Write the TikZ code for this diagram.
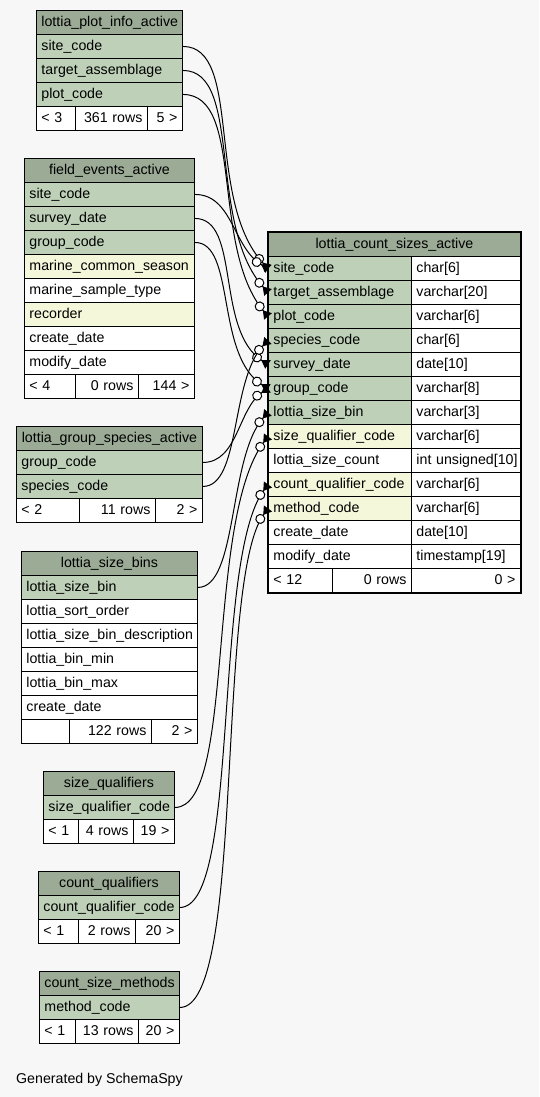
\documentclass[tikz,border=0pt]{standalone}
\usepackage{fontspec}
\setmainfont{Liberation Sans}
\usetikzlibrary{arrows.meta}

\definecolor{headcol}{HTML}{9BAB96}
\definecolor{keycol}{HTML}{BED1B8}
\definecolor{idxcol}{HTML}{F4F7DA}
\definecolor{bgcol}{HTML}{F7F7F7}

\newcommand{\cellfont}{\fontsize{14.2}{17}\selectfont}
% one table cell: name, x, y (top left), width, style, text
\newcommand{\tcell}[6]{%
  \pgfmathsetmacro{\cellw}{#4-10}%
  \node[cell, #5, minimum width=#4pt, text width=\cellw pt] (#1) at (#2,#3) {\mbox{#6}};}

\begin{document}
\begin{tikzpicture}[x=1pt, y=-1pt,
cell/.style={rectangle, draw=black, line width=0.9pt, anchor=north west, minimum height=24pt,
  inner xsep=5pt, inner ysep=0pt, text height=11.5pt, text depth=2.5pt, align=left, font=\cellfont},
headrow/.style={fill=headcol, align=center},
keyrow/.style={fill=keycol},
idxrow/.style={fill=idxcol},
plainrow/.style={fill=white},
numcell/.style={fill=white, align=right},
fk/.style={draw=black, line width=1pt,
  -{Circle[open, fill=white, length=10pt, sep=0pt]Triangle[reversed, length=8pt, width=10pt]}},
]

\fill[bgcol] (0,0) rectangle (539,1097);

% lottia_plot_info_active
\tcell{pia-head}{36}{10}{146}{headrow}{lottia\_plot\_info\_active}
\tcell{pia-site}{36}{34}{146}{keyrow}{site\_code}
\tcell{pia-target}{36}{58}{146}{keyrow}{target\_assemblage}
\tcell{pia-plot}{36}{82}{146}{keyrow}{plot\_code}
\tcell{pia-foot1}{36}{106}{39}{plainrow}{< 3}
\tcell{pia-foot2}{75}{106}{72}{numcell}{361 rows}
\tcell{pia-foot3}{147}{106}{35}{numcell}{5 >}

% field_events_active
\tcell{fea-head}{24}{158}{170}{headrow}{field\_events\_active}
\tcell{fea-site}{24}{182}{170}{keyrow}{site\_code}
\tcell{fea-survey}{24}{206}{170}{keyrow}{survey\_date}
\tcell{fea-group}{24}{230}{170}{keyrow}{group\_code}
\tcell{fea-season}{24}{254}{170}{idxrow}{marine\_common\_season}
\tcell{fea-sample}{24}{278}{170}{plainrow}{marine\_sample\_type}
\tcell{fea-recorder}{24}{302}{170}{idxrow}{recorder}
\tcell{fea-create}{24}{326}{170}{plainrow}{create\_date}
\tcell{fea-modify}{24}{350}{170}{plainrow}{modify\_date}
\tcell{fea-foot1}{24}{374}{51}{plainrow}{< 4}
\tcell{fea-foot2}{75}{374}{63}{numcell}{0 rows}
\tcell{fea-foot3}{138}{374}{56}{numcell}{144 >}

% lottia_group_species_active
\tcell{lgs-head}{16}{426}{186}{headrow}{lottia\_group\_species\_active}
\tcell{lgs-group}{16}{450}{186}{keyrow}{group\_code}
\tcell{lgs-species}{16}{474}{186}{keyrow}{species\_code}
\tcell{lgs-foot1}{16}{498}{63}{plainrow}{< 2}
\tcell{lgs-foot2}{79}{498}{76}{numcell}{11 rows}
\tcell{lgs-foot3}{155}{498}{47}{numcell}{2 >}

% lottia_size_bins
\tcell{lsb-head}{21}{551}{176}{headrow}{lottia\_size\_bins}
\tcell{lsb-bin}{21}{575}{176}{keyrow}{lottia\_size\_bin}
\tcell{lsb-order}{21}{599}{176}{plainrow}{lottia\_sort\_order}
\tcell{lsb-desc}{21}{623}{176}{plainrow}{lottia\_size\_bin\_description}
\tcell{lsb-min}{21}{647}{176}{plainrow}{lottia\_bin\_min}
\tcell{lsb-max}{21}{671}{176}{plainrow}{lottia\_bin\_max}
\tcell{lsb-create}{21}{695}{176}{plainrow}{create\_date}
\tcell{lsb-foot1}{21}{719}{48}{plainrow}{}
\tcell{lsb-foot2}{69}{719}{82}{numcell}{122 rows}
\tcell{lsb-foot3}{151}{719}{46}{numcell}{2 >}

% size_qualifiers
\tcell{sq-head}{43}{771}{131}{headrow}{size\_qualifiers}
\tcell{sq-code}{43}{795}{131}{keyrow}{size\_qualifier\_code}
\tcell{sq-foot1}{43}{819}{35}{plainrow}{< 1}
\tcell{sq-foot2}{78}{819}{55}{numcell}{4 rows}
\tcell{sq-foot3}{133}{819}{41}{numcell}{19 >}

% count_qualifiers
\tcell{cq-head}{38}{871}{141}{headrow}{count\_qualifiers}
\tcell{cq-code}{38}{895}{141}{keyrow}{count\_qualifier\_code}
\tcell{cq-foot1}{38}{919}{40}{plainrow}{< 1}
\tcell{cq-foot2}{78}{919}{57}{numcell}{2 rows}
\tcell{cq-foot3}{135}{919}{44}{numcell}{20 >}

% count_size_methods
\tcell{csm-head}{39}{971}{140}{headrow}{count\_size\_methods}
\tcell{csm-code}{39}{995}{140}{keyrow}{method\_code}
\tcell{csm-foot1}{39}{1019}{36}{plainrow}{< 1}
\tcell{csm-foot2}{75}{1019}{63}{numcell}{13 rows}
\tcell{csm-foot3}{138}{1019}{41}{numcell}{20 >}

% lottia_count_sizes_active
\tcell{lcs-head}{268}{232}{252}{headrow}{lottia\_count\_sizes\_active}
\tcell{lcs-site}{268}{256}{143}{keyrow}{site\_code}
\tcell{lcs-site-t}{411}{256}{109}{plainrow}{char[6]}
\tcell{lcs-target}{268}{280}{143}{keyrow}{target\_assemblage}
\tcell{lcs-target-t}{411}{280}{109}{plainrow}{varchar[20]}
\tcell{lcs-plot}{268}{304}{143}{keyrow}{plot\_code}
\tcell{lcs-plot-t}{411}{304}{109}{plainrow}{varchar[6]}
\tcell{lcs-species}{268}{328}{143}{keyrow}{species\_code}
\tcell{lcs-species-t}{411}{328}{109}{plainrow}{char[6]}
\tcell{lcs-survey}{268}{352}{143}{keyrow}{survey\_date}
\tcell{lcs-survey-t}{411}{352}{109}{plainrow}{date[10]}
\tcell{lcs-group}{268}{376}{143}{keyrow}{group\_code}
\tcell{lcs-group-t}{411}{376}{109}{plainrow}{varchar[8]}
\tcell{lcs-bin}{268}{400}{143}{keyrow}{lottia\_size\_bin}
\tcell{lcs-bin-t}{411}{400}{109}{plainrow}{varchar[3]}
\tcell{lcs-sizeq}{268}{424}{143}{idxrow}{size\_qualifier\_code}
\tcell{lcs-sizeq-t}{411}{424}{109}{plainrow}{varchar[6]}
\tcell{lcs-count}{268}{448}{143}{plainrow}{lottia\_size\_count}
\tcell{lcs-count-t}{411}{448}{109}{plainrow}{int unsigned[10]}
\tcell{lcs-countq}{268}{472}{143}{idxrow}{count\_qualifier\_code}
\tcell{lcs-countq-t}{411}{472}{109}{plainrow}{varchar[6]}
\tcell{lcs-method}{268}{496}{143}{idxrow}{method\_code}
\tcell{lcs-method-t}{411}{496}{109}{plainrow}{varchar[6]}
\tcell{lcs-create}{268}{520}{143}{plainrow}{create\_date}
\tcell{lcs-create-t}{411}{520}{109}{plainrow}{date[10]}
\tcell{lcs-modify}{268}{544}{143}{plainrow}{modify\_date}
\tcell{lcs-modify-t}{411}{544}{109}{plainrow}{timestamp[19]}
\tcell{lcs-foot1}{268}{568}{64}{plainrow}{< 12}
\tcell{lcs-foot2}{332}{568}{79}{numcell}{0 rows}
\tcell{lcs-foot3}{411}{568}{109}{numcell}{0 >}
\draw[line width=2.6pt] (lcs-head.north west) rectangle (lcs-foot3.south east);

% foreign keys
\draw[fk] (pia-site.east) .. controls +(60,0) and +(-63,-68) .. (lcs-site.west);
\draw[fk] (pia-target.east) .. controls +(60,0) and +(-61,-68) .. (lcs-target.west);
\draw[fk] (pia-plot.east) .. controls +(62,0) and +(-58,-70) .. (lcs-plot.west);
\draw[fk] (fea-site.east) .. controls +(38,0) and +(-35,-20) .. (lcs-site.west);
\draw[fk] (fea-survey.east) .. controls +(46,0) and +(-53,-34) .. (lcs-survey.west);
\draw[fk] (fea-group.east) .. controls +(41,0) and +(-53,-33) .. (lcs-group.west);
\draw[fk] (lgs-group.east) .. controls +(35,0) and +(-30,20) .. (lcs-group.west);
\draw[fk] (lgs-species.east) .. controls +(38,0) and +(-38,40) .. (lcs-species.west);
\draw[fk] (lsb-bin.east) .. controls +(40,0) and +(-40,45) .. (lcs-bin.west);
\draw[fk] (sq-code.east) .. controls +(61,0) and +(-63,84) .. (lcs-sizeq.west);
\draw[fk] (cq-code.east) .. controls +(61,0) and +(-56,76) .. (lcs-countq.west);
\draw[fk] (csm-code.east) .. controls +(66,0) and +(-53,72) .. (lcs-method.west);

\node[font=\cellfont, anchor=base west, inner sep=0pt] (credit) at (16,1083) {Generated by SchemaSpy};
\end{tikzpicture}
\end{document}
